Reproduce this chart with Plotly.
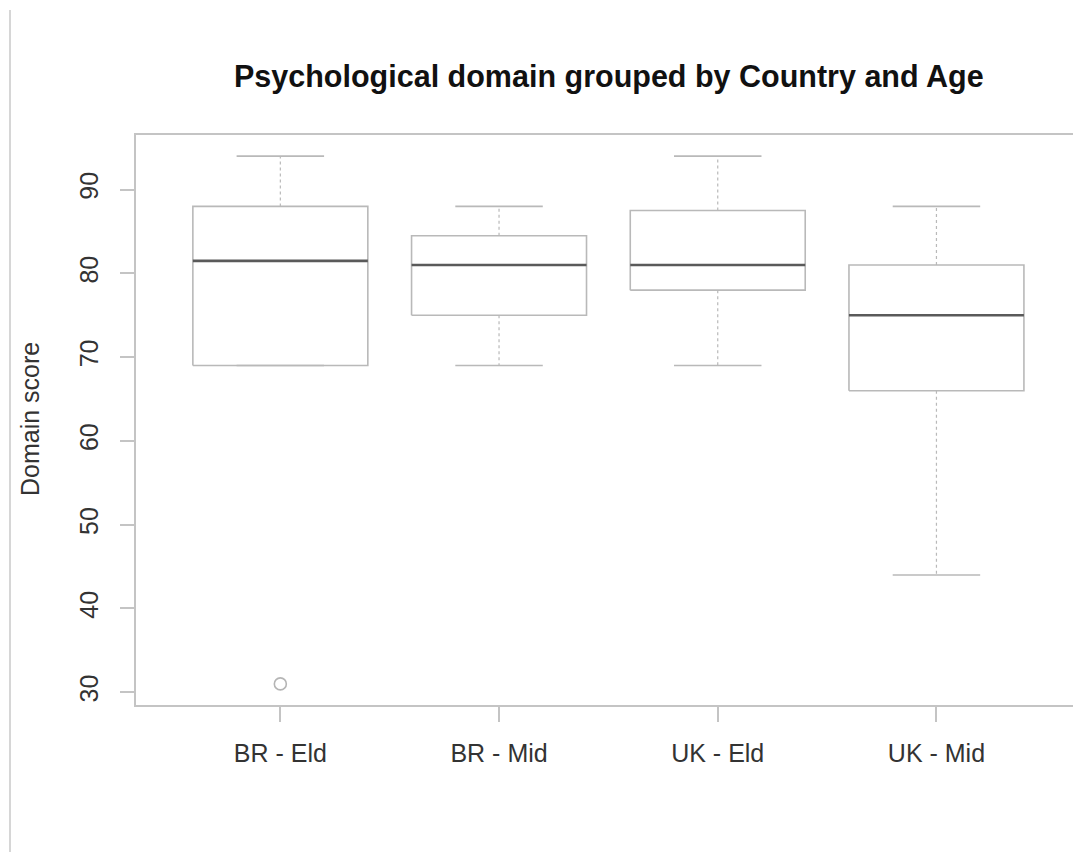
import plotly.graph_objects as go

# Five-number summaries of the psychological domain score per group
groups = ["BR - Eld", "BR - Mid", "UK - Eld", "UK - Mid"]
lower_whisker = [69, 69, 69, 44]
q1 = [69, 75, 78, 66]
median = [81.5, 81, 81, 75]
q3 = [88, 84.5, 87.5, 81]
upper_whisker = [94, 88, 94, 88]
outlier_group = [1]
outlier_value = [31]
y_ticks = [30, 40, 50, 60, 70, 80, 90]

W, H = 1073, 852
L, T, B = 136, 135, 147
PW, PH = W - L, H - T - B

BOX_HALF = 0.4
CAP_HALF = 0.2
LINE = "#b9b9b9"
MED = "#5a5a5a"
FONT = "Liberation Sans, Arial, Helvetica, sans-serif"

fig = go.Figure()

for i, g in enumerate(groups):
    x = i + 1
    # box outline
    fig.add_trace(go.Scatter(
        x=[x - BOX_HALF, x + BOX_HALF, x + BOX_HALF, x - BOX_HALF, x - BOX_HALF],
        y=[q1[i], q1[i], q3[i], q3[i], q1[i]],
        mode="lines", line=dict(color=LINE, width=1.6),
        hoverinfo="skip", showlegend=False))
    # dotted whiskers
    fig.add_trace(go.Scatter(
        x=[x, x, None, x, x],
        y=[q3[i], upper_whisker[i], None, q1[i], lower_whisker[i]],
        mode="lines", line=dict(color=LINE, width=1.2, dash="dot"),
        hoverinfo="skip", showlegend=False))
    # whisker caps
    fig.add_trace(go.Scatter(
        x=[x - CAP_HALF, x + CAP_HALF, None, x - CAP_HALF, x + CAP_HALF],
        y=[upper_whisker[i], upper_whisker[i], None, lower_whisker[i], lower_whisker[i]],
        mode="lines", line=dict(color=LINE, width=1.6),
        hoverinfo="skip", showlegend=False))
    # median
    fig.add_trace(go.Scatter(
        x=[x - BOX_HALF, x + BOX_HALF], y=[median[i], median[i]],
        mode="lines", line=dict(color=MED, width=2.6),
        name=g, showlegend=False))

# outliers
fig.add_trace(go.Scatter(
    x=outlier_group, y=outlier_value, mode="markers",
    marker=dict(symbol="circle-open", size=12, color="#b5b5b5", line=dict(width=1.6)),
    showlegend=False))

fig.update_layout(
    width=W, height=H,
    margin=dict(l=L, r=0, t=T, b=B),
    paper_bgcolor="white", plot_bgcolor="white",
    font=dict(family=FONT, size=25, color="#333333"),
    xaxis=dict(
        range=[0.34, 0.34 + PW / 218.7],
        tickmode="array", tickvals=[1, 2, 3, 4], ticktext=groups,
        showgrid=False, zeroline=False,
        showline=True, linecolor="#c4c4c4", linewidth=2, mirror=True,
        ticks="outside", ticklen=15, tickcolor="#c4c4c4", tickwidth=1.5,
        ticklabelstandoff=10,
        tickfont=dict(size=25, color="#333333"),
    ),
    yaxis=dict(
        range=[28.48, 96.52],
        tickmode="array", tickvals=y_ticks,
        showgrid=False, zeroline=False,
        showline=True, linecolor="#c4c4c4", linewidth=2,
        ticks="outside", ticklen=14, tickcolor="#c4c4c4", tickwidth=1.5,
        tickangle=-90, ticklabelstandoff=12,
        tickfont=dict(size=25, color="#333333"),
    ),
    annotations=[
        dict(text="<b>Psychological domain grouped by Country and Age</b>",
             xref="paper", yref="paper",
             x=(608.5 - L) / PW, y=(T + PH - 77) / PH,
             xanchor="center", yanchor="middle", showarrow=False,
             font=dict(family=FONT, size=30.5, color="#111111")),
        dict(text="Domain score", textangle=-90,
             xref="paper", yref="paper",
             x=(30 - L) / PW, y=(T + PH - 419) / PH,
             xanchor="center", yanchor="middle", showarrow=False,
             font=dict(family=FONT, size=25, color="#333333")),
    ],
    shapes=[
        dict(type="line", xref="paper", yref="paper",
             x0=(10 - L) / PW, x1=(10 - L) / PW,
             y0=-(B) / PH, y1=(PH + T - 10) / PH,
             line=dict(color="#d6d6d6", width=2)),
    ],
)

fig.write_html("out.html")
